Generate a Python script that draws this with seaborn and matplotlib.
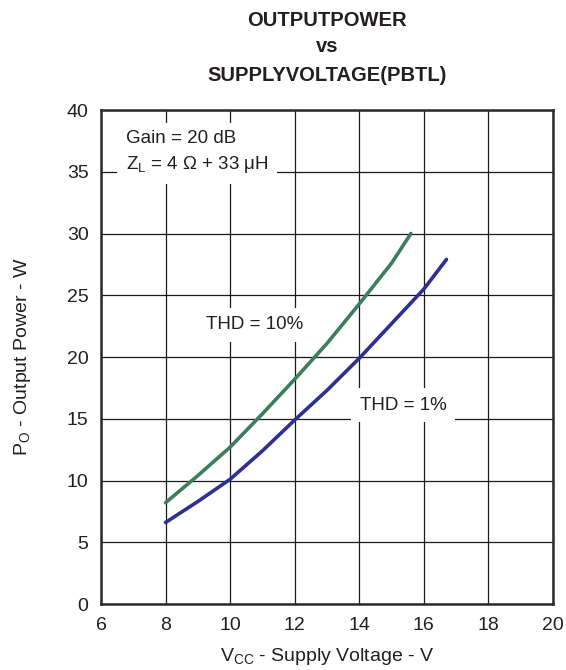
import matplotlib
matplotlib.use("Agg")
import matplotlib.pyplot as plt
import seaborn as sns
import pandas as pd

# Output power vs supply voltage, PBTL mode
vcc_10 = [8, 9, 10, 11, 12, 13, 14, 15, 15.6]
po_10 = [8.2, 10.4, 12.7, 15.4, 18.2, 21.1, 24.3, 27.6, 30.0]
vcc_1 = [8, 9, 10, 11, 12, 13, 14, 15, 16, 16.7]
po_1 = [6.6, 8.3, 10.1, 12.4, 14.9, 17.3, 19.9, 22.7, 25.5, 27.9]

x_ticks = [6, 8, 10, 12, 14, 16, 18, 20]
y_ticks = [0, 5, 10, 15, 20, 25, 30, 35, 40]

df = pd.concat([
    pd.DataFrame({"Vcc": vcc_10, "Po": po_10, "THD": "10%"}),
    pd.DataFrame({"Vcc": vcc_1, "Po": po_1, "THD": "1%"}),
], ignore_index=True)

sns.set_style("white")
plt.rcParams["font.family"] = ["Liberation Sans", "DejaVu Sans"]
plt.rcParams["mathtext.fontset"] = "custom"
plt.rcParams["mathtext.rm"] = "Liberation Sans"
plt.rcParams["mathtext.it"] = "Liberation Sans:italic"
plt.rcParams["mathtext.bf"] = "Liberation Sans:bold"

text_color = "#231f20"

fig = plt.figure(figsize=(5.66, 6.70), dpi=100)
ax = fig.add_axes([0.1784, 0.0985, 0.7986, 0.7373])

sns.lineplot(data=df, x="Vcc", y="Po", hue="THD",
             palette={"10%": "#3d7d5c", "1%": "#2e2f92"},
             linewidth=2.6, legend=False, ax=ax, sort=False)

ax.set_xlim(6, 20)
ax.set_ylim(0, 40)
ax.set_xticks(x_ticks)
ax.set_yticks(y_ticks)
ax.tick_params(axis="both", length=0, labelsize=14, labelcolor=text_color, pad=9)
ax.grid(True, color="#1a1a1a", linewidth=0.9)
ax.set_axisbelow(True)
for s in ax.spines.values():
    s.set_color("#2a2a2a")
    s.set_linewidth(1.8)

ax.set_xlabel(r"V$_\mathregular{CC}$ - Supply Voltage - V", fontsize=14,
              color=text_color, labelpad=9)
ax.set_ylabel(r"P$_\mathregular{O}$ - Output Power - W", fontsize=14,
              color=text_color, labelpad=24)

fig.text(0.578, 0.970, "OUTPUTPOWER", ha="center", va="center",
         fontsize=14.5, fontweight="bold", color=text_color)
fig.text(0.578, 0.930, "vs", ha="center", va="center",
         fontsize=14.5, fontweight="bold", color=text_color)
fig.text(0.578, 0.888, "SUPPLYVOLTAGE(PBTL)", ha="center", va="center",
         fontsize=14.5, fontweight="bold", color=text_color)

box = dict(boxstyle="square,pad=0.45", facecolor="white", edgecolor="none")
ax.text(6.77, 36.55, "Gain = 20 dB\n" + r"Z$_\mathregular{L}$ = 4 Ω + 33 μH",
        ha="left", va="center", fontsize=13.5, color=text_color,
        linespacing=1.5, bbox=box)
ax.text(10.77, 22.6, "THD = 10%", ha="center", va="center", fontsize=13.5,
        color=text_color, bbox=box)
ax.text(15.36, 16.1, "THD = 1%", ha="center", va="center", fontsize=13.5,
        color=text_color, bbox=box)

fig.savefig("out.png", dpi=100)
